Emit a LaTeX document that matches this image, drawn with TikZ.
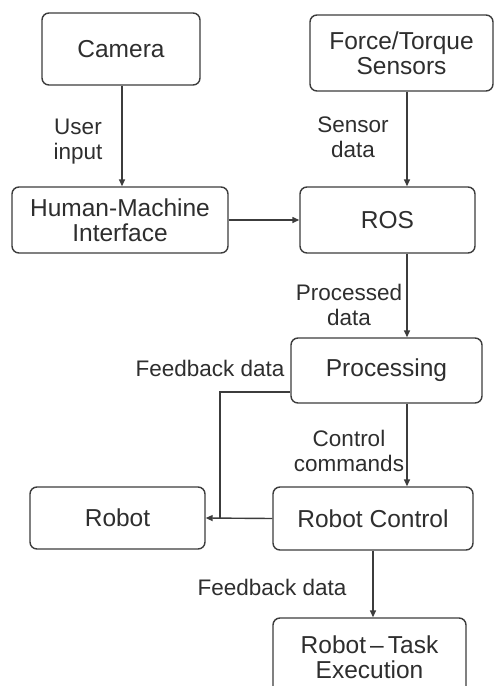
\documentclass[tikz,border=0pt]{standalone}
\usepackage{fontspec}
\setmainfont{Liberation Sans}
\usetikzlibrary{arrows.meta}
\definecolor{ink}{HTML}{2E2E2E}
\definecolor{edge}{HTML}{3C3C3C}
\tikzset{
  blk/.style={draw=edge, line width=1.4pt, rounded corners=7pt, fill=white,
    text=ink, align=center, inner sep=0pt,
    font=\fontsize{24.5}{25.5}\selectfont},
  lbl/.style={text=ink, align=center, inner sep=0pt,
    font=\fontsize{22.5}{25}\selectfont},
  arr/.style={draw=edge, line width=1.4pt, -{Triangle[length=7pt,width=6pt]}},
  wire/.style={draw=edge, line width=1.4pt}
}
\begin{document}
\begin{tikzpicture}[x=1pt, y=-1pt]
\useasboundingbox[fill=white] (0,0) rectangle (494,686);

% blocks
\node[blk, minimum width=158pt, minimum height=72pt] (cam) at (121,49) {Camera};
\node[blk, minimum width=183pt, minimum height=76pt] (fts) at (401.5,53) {Force/Torque\\Sensors};
\node[blk, minimum width=216pt, minimum height=66pt] (hmi) at (120,220) {Human-Machine\\Interface};
\node[blk, minimum width=175pt, minimum height=66pt] (ros) at (387.5,220) {ROS};
\node[blk, minimum width=191pt, minimum height=65pt] (proc) at (386.5,370.5) {Processing};
\node[blk, minimum width=175pt, minimum height=62pt] (robot) at (117.5,518) {Robot};
\node[blk, minimum width=200pt, minimum height=63pt] (rc) at (373,518.5) {Robot Control};
\node[blk, minimum width=193pt, minimum height=78pt] (rte) at (369.5,657) {Robot\,--\,Task\\Execution};

% guide coordinates for vertical runs
\coordinate (xcam) at (122,0);
\coordinate (xr) at (407,0);
\coordinate (xrc) at (373,0);
\coordinate (xfb) at (220,0);
\coordinate (yfb) at (0,392);

% connectors
\draw[arr] (cam.south -| xcam) -- (hmi.north -| xcam);
\draw[arr] (fts.south -| xr) -- (ros.north -| xr);
\draw[arr] (hmi.east) -- (ros.west);
\draw[arr] (ros.south -| xr) -- (proc.north -| xr);
\draw[arr] (proc.south -| xr) -- (rc.north -| xr);
\draw[arr] (rc.south -| xrc) -- (rte.north -| xrc);
\draw[arr] (rc.west) -- (robot.east);
\draw[wire] (proc.west |- yfb) -| (xfb |- robot.east);

% connector labels
\node[lbl] (l1) at (78,142) {User\\input};
\node[lbl] (l2) at (353,137) {Sensor\\data};
\node[lbl] (l3) at (349,305) {Processed\\data};
\node[lbl] (l4) at (210,368) {Feedback data};
\node[lbl] (l5) at (349,451) {Control\\commands};
\node[lbl] (l6) at (272,587) {Feedback data};
\end{tikzpicture}
\end{document}
